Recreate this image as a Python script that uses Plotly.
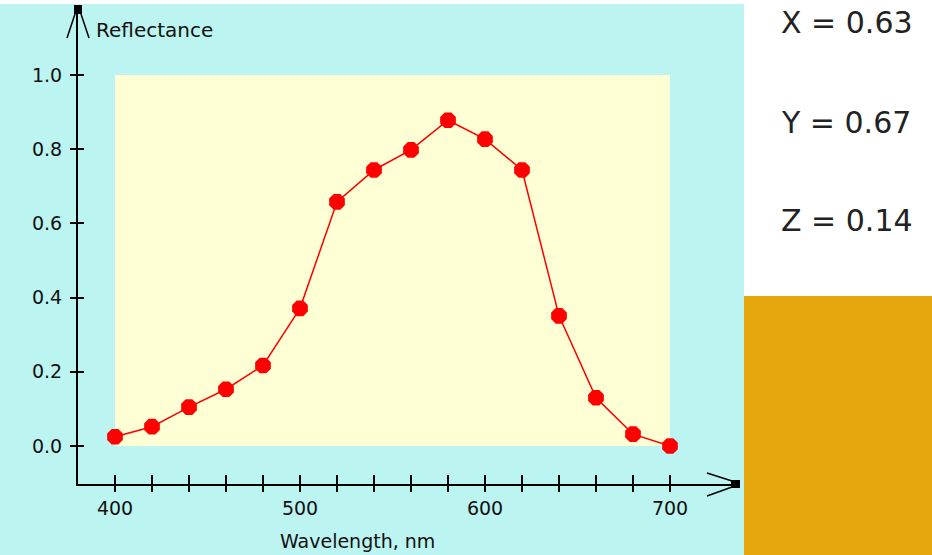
import plotly.graph_objects as go

# ---- data ----
wavelength = [400, 420, 440, 460, 480, 500, 520, 540, 560, 580, 600, 620, 640, 660, 680, 700]
reflectance = [0.025, 0.052, 0.105, 0.153, 0.217, 0.371, 0.658, 0.744, 0.798, 0.878, 0.827, 0.744, 0.351, 0.130, 0.032, 0.000]
x_tickvals = [400, 420, 440, 460, 480, 500, 520, 540, 560, 580, 600, 620, 640, 660, 680, 700]
x_ticktext = ["400", "", "", "", "", "500", "", "", "", "", "600", "", "", "", "", "700"]
y_tickvals = [0.0, 0.2, 0.4, 0.6, 0.8, 1.0]
y_ticktext = ["0.0", "0.2", "0.4", "0.6", "0.8", "1.0"]
xyz_labels = ["X = 0.63", "Y = 0.67", "Z = 0.14"]

W, H = 932, 555
CYAN = "#BBF4F0"
YELLOW = "#FFFFD6"
GOLD = "#E6A70E"
FONT = "DejaVu Sans"


def px(x):
    return x / W


def py(y):
    return 1 - y / H


fig = go.Figure()
fig.add_trace(go.Scatter(
    x=wavelength, y=reflectance, mode="lines+markers",
    line=dict(color="#FF0000", width=1.5),
    marker=dict(symbol="octagon", size=17, color="#FF0000", line=dict(width=0)),
    showlegend=False, hoverinfo="x+y",
))

xdom = [px(78), px(740)]
ydom = [py(484), py(8)]
xr = [380, 400 + (740 - 115) / 1.85]
yr = [(446 - 484) / 371, (446 - 8) / 371]

axis_common = dict(showgrid=False, zeroline=False, automargin=False)
fig.update_layout(
    width=W, height=H,
    margin=dict(l=0, r=0, t=0, b=0),
    paper_bgcolor="white", plot_bgcolor=CYAN,
    font=dict(family=FONT, size=19, color="#111"),
    xaxis=dict(domain=xdom, range=xr, tickvals=x_tickvals, ticktext=x_ticktext,
               ticks="outside", ticklen=6, tickwidth=2, tickcolor="black",
               showline=True, linecolor="black", linewidth=2,
               tickfont=dict(family=FONT, size=19, color="#111"), **axis_common),
    yaxis=dict(domain=ydom, range=yr, tickvals=y_tickvals, ticktext=y_ticktext,
               ticks="outside", ticklen=6, tickwidth=2, tickcolor="black",
               showline=True, linecolor="black", linewidth=2, ticklabelstandoff=4,
               tickfont=dict(family=FONT, size=19, color="#111"), **axis_common),
    xaxis2=dict(overlaying="x", anchor="y", side="bottom", range=xr, tickvals=x_tickvals,
                ticks="inside", ticklen=9, tickwidth=2, tickcolor="black",
                showticklabels=False, showline=False, **axis_common),
    yaxis2=dict(overlaying="y", anchor="x", side="left", range=yr, tickvals=y_tickvals,
                ticks="inside", ticklen=6, tickwidth=2, tickcolor="black",
                showticklabels=False, showline=False, **axis_common),
)
# invisible trace to instantiate the overlay axes
fig.add_trace(go.Scatter(x=[wavelength[0]], y=[reflectance[0]], xaxis="x2", yaxis="y2",
                         mode="markers", marker=dict(opacity=0), showlegend=False, hoverinfo="skip"))

shapes = [
    # cyan left panel
    dict(type="rect", xref="paper", yref="paper", x0=0, x1=px(744), y0=0, y1=py(4),
         fillcolor=CYAN, line=dict(width=0), layer="below"),
    # gold swatch
    dict(type="rect", xref="paper", yref="paper", x0=px(744), x1=1, y0=0, y1=py(296),
         fillcolor=GOLD, line=dict(width=0), layer="below"),
    # yellow data region
    dict(type="rect", xref="x", yref="y", x0=400, x1=700, y0=0, y1=1,
         fillcolor=YELLOW, line=dict(width=0), layer="below"),
    # top arrow head
    dict(type="path", xref="paper", yref="paper",
         path=f"M {px(67)} {py(38)} L {px(75)} {py(14)} M {px(89)} {py(38)} L {px(81)} {py(14)}",
         line=dict(color="black", width=1.5)),
    dict(type="rect", xref="paper", yref="paper", x0=px(74), x1=px(82), y0=py(14), y1=py(5),
         fillcolor="black", line=dict(width=0)),
    # right arrow head
    dict(type="path", xref="paper", yref="paper",
         path=f"M {px(707)} {py(473)} L {px(732)} {py(481)} M {px(707)} {py(496)} L {px(732)} {py(487)}",
         line=dict(color="black", width=1.5)),
    dict(type="rect", xref="paper", yref="paper", x0=px(731), x1=px(740), y0=py(488), y1=py(480),
         fillcolor="black", line=dict(width=0)),
]
fig.update_layout(shapes=shapes)

annotations = [
    dict(text="Reflectance", xref="paper", yref="paper", x=px(94), y=py(30),
         xanchor="left", yanchor="middle", showarrow=False,
         font=dict(family=FONT, size=20, color="#111")),
    dict(text="Wavelength, nm", xref="paper", yref="paper", x=px(357), y=py(541),
         xanchor="center", yanchor="middle", showarrow=False,
         font=dict(family=FONT, size=19, color="#111")),
]
for lab, yc in zip(xyz_labels, [22, 123, 221]):
    annotations.append(dict(text=lab, xref="paper", yref="paper", x=px(779), y=py(yc),
                            xanchor="left", yanchor="middle", showarrow=False,
                            font=dict(family=FONT, size=30, color="#222")))
fig.update_layout(annotations=annotations)

fig.write_html("out.html", config={"displayModeBar": False},
               post_script="document.body.style.margin='0';document.body.style.overflow='hidden';")
